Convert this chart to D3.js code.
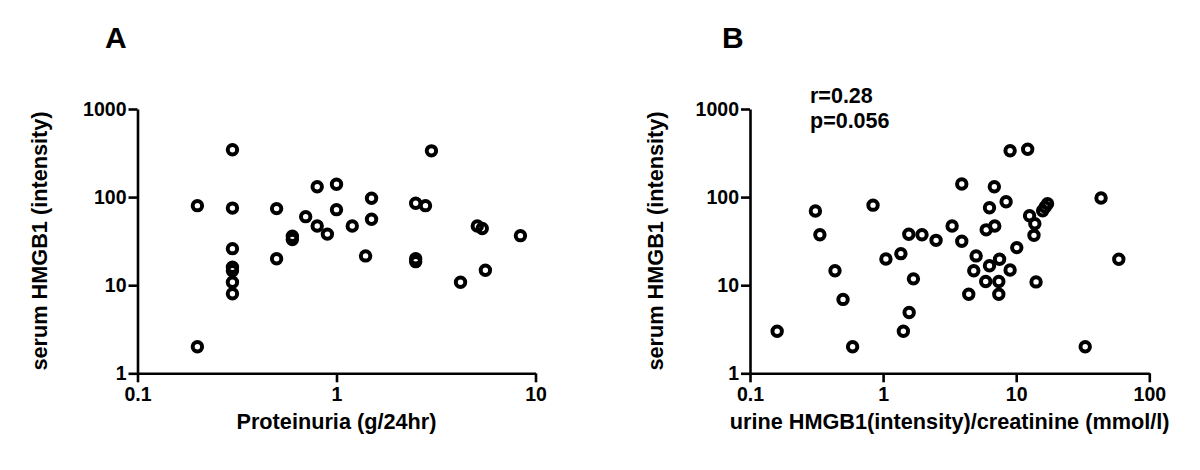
<!DOCTYPE html>
<html>
<head>
<meta charset="utf-8">
<script src="https://cdn.jsdelivr.net/npm/d3@7"></script>
<style>
  body { margin: 0; background: #fff; }
  svg { display: block; font-family: "Liberation Sans", Arial, sans-serif; font-weight: bold; }
  .axis path, .axis line { stroke: #000; stroke-width: 2.6; }
  .axis text { font-size: 19.5px; font-weight: bold; fill: #000; }
  .dot { fill: none; stroke: #000; stroke-width: 4; }
</style>
</head>
<body>
<div id="chart"></div>
<script>
// panel A: proteinuria vs serum HMGB1
const proteinuria = [0.2, 0.2, 0.3, 0.3, 0.3, 0.3, 0.3, 0.3, 0.3, 0.5, 0.5, 0.6, 0.6, 0.7, 0.8, 0.8,
  0.9, 1.0, 1.0, 1.2, 1.5, 1.5, 1.4, 2.5, 2.8, 2.5, 2.5, 3.0, 5.1, 5.4, 8.4, 5.6, 4.2];
const serumA = [80, 2, 345, 75, 26, 16, 14.6, 10.8, 8, 74, 20, 36, 33, 60, 131, 47,
  38, 140, 72, 47, 97, 56, 21.5, 85, 80, 20, 18.5, 335, 47, 44, 36.5, 14.8, 10.8];

// panel B: urine HMGB1/creatinine vs serum HMGB1
const urineRatio = [0.16, 0.31, 0.335, 0.435, 0.5, 0.59, 0.84, 1.05, 1.36, 1.42, 1.56, 1.69, 1.57,
  1.96, 2.5, 3.3, 3.9, 3.9, 4.4, 5.0, 4.8, 5.9, 6.3, 6.3, 5.95, 6.9, 6.85, 9.0, 12.2, 8.4,
  7.5, 9.0, 7.4, 7.4, 10.1, 12.6, 13.8, 13.6, 14.1, 15.8, 16.5, 17.2, 43.4, 59, 33];
const serumB = [3, 69.5, 37.4, 14.6, 6.9, 2, 81, 19.8, 22.8, 3, 37.8, 11.8, 4.9,
  37.4, 32.3, 47, 141, 31.5, 7.9, 21.5, 14.6, 11, 16.6, 75.8, 42.5, 47, 131, 336, 349, 88.7,
  19.7, 14.9, 11, 7.9, 26.7, 61.5, 49.9, 36.8, 10.9, 70, 77, 84, 97.7, 19.7, 2];

const yTicks = [1, 10, 100, 1000];
const xTicksA = [0.1, 1, 10];
const xTicksB = [0.1, 1, 10, 100];
const yTitle = 'serum HMGB1 (intensity)';
const stats = ['r=0.28', 'p=0.056'];

class LogScatter {
  constructor(svg, box) {
    this.svg = svg;
    this.box = box;
    this.x = null;
    this.y = null;
  }

  scales(xDomain) {
    this.x = d3.scaleLog().domain(xDomain).range([this.box.left, this.box.right]);
    this.y = d3.scaleLog().domain([1, 1000]).range([this.box.bottom, this.box.top]);
  }

  axes(xTicks) {
    const fmt = d3.format('~g');
    this.svg.append('g')
      .attr('class', 'axis')
      .attr('transform', `translate(0,${this.box.bottom})`)
      .call(d3.axisBottom(this.x).tickValues(xTicks).tickFormat(fmt).tickSize(9).tickSizeOuter(0).tickPadding(5));
    this.svg.append('g')
      .attr('class', 'axis')
      .attr('transform', `translate(${this.box.left},0)`)
      .call(d3.axisLeft(this.y).tickValues(yTicks).tickFormat(fmt).tickSize(9).tickSizeOuter(0).tickPadding(2));
  }

  titles(xLabel, yX, letter, letterX) {
    const midX = (this.box.left + this.box.right) / 2;
    this.svg.append('text')
      .attr('x', midX).attr('y', 429)
      .attr('text-anchor', 'middle')
      .style('font-size', '21.7px')
      .text(xLabel);
    this.svg.append('text')
      .attr('transform', `translate(${yX},241) rotate(-90)`)
      .attr('text-anchor', 'middle')
      .style('font-size', '21.7px')
      .text(yTitle);
    this.svg.append('text')
      .attr('x', letterX).attr('y', 48)
      .style('font-size', '30px')
      .text(letter);
  }

  dots(xs, ys) {
    this.svg.append('g').selectAll('circle')
      .data(xs.map((d, i) => [d, ys[i]]))
      .enter()
      .append('circle')
      .attr('class', 'dot')
      .attr('cx', d => this.x(d[0]))
      .attr('cy', d => this.y(d[1]))
      .attr('r', 4.7);
  }
}

const svg = d3.select('#chart').append('svg')
  .attr('width', 1200)
  .attr('height', 470);

const panelA = new LogScatter(svg, { left: 137.5, right: 535.5, top: 109, bottom: 373.3 });
panelA.scales([0.1, 10]);
panelA.axes(xTicksA);
panelA.dots(proteinuria, serumA);
panelA.titles('Proteinuria (g/24hr)', 47, 'A', 105);

const panelB = new LogScatter(svg, { left: 750, right: 1149.3, top: 109, bottom: 373.3 });
panelB.scales([0.1, 100]);
panelB.axes(xTicksB);
panelB.dots(urineRatio, serumB);
panelB.titles('urine HMGB1(intensity)/creatinine (mmol/l)', 663, 'B', 722);

// correlation stats in panel B
svg.append('g').selectAll('text')
  .data(stats)
  .enter()
  .append('text')
  .attr('x', 810)
  .attr('y', (d, i) => 103 + i * 25)
  .style('font-size', '21.5px')
  .text(d => d);
</script>
</body>
</html>
